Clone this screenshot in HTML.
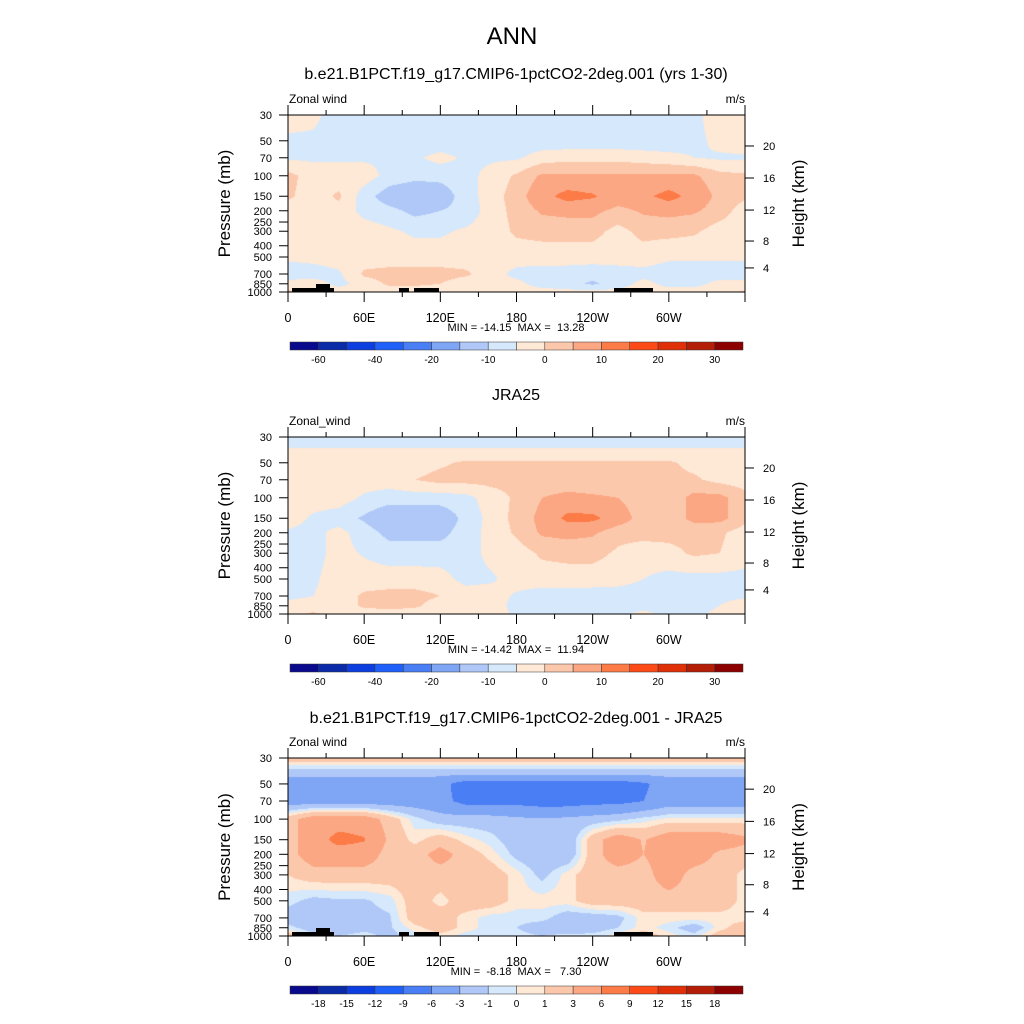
<!DOCTYPE html>
<html><head><meta charset="utf-8">
<style>
html,body{margin:0;padding:0;background:#fff;}
#wrap{position:relative;width:1024px;height:1024px;overflow:hidden;font-family:"Liberation Sans",sans-serif;}
canvas{position:absolute;}
svg{position:absolute;left:0;top:0;}
svg text{white-space:pre;}
</style></head>
<body>
<div id="wrap">
<canvas id="c1" width="457" height="177" style="left:288px;top:115px"></canvas>
<canvas id="c2" width="457" height="177" style="left:288px;top:437px"></canvas>
<canvas id="c3" width="457" height="178" style="left:288px;top:758px"></canvas>
<svg id="ov" width="1024" height="1024"></svg>
</div>
<script>
const lons = [0,20,40,60,80,100,120,140,160,180,200,220,240,260,280,300,320,340,360];
const plevs = [30,40,50,70,100,150,200,300,500,700,850,1000];
const colors = ['#0a0a8c','#0b2aa8','#0d3ee0','#2060fa','#4a7ef5','#7fa5f5','#b0c8f8','#d6e8fb','#fee8d6','#fcc8ac','#fca784','#fd7b46','#fd4b18','#e03008','#b41e06','#8c0000'];
const levelsU = [-60,-50,-40,-30,-20,-10,-3,0,3,6,10,20,25,30,35];
const levelsD = [-18,-15,-12,-9,-6,-3,-1,0,1,3,6,9,12,15,18];
const labelsU = ['-60','','-40','','-20','','-10','','0','','10','','20','','30'];
const labelsD = ['-18','-15','-12','-9','-6','-3','-1','0','1','3','6','9','12','15','18'];
const xTickLabels = ['0','60E','120E','180','120W','60W'];
const pTicks = [30,50,70,100,150,200,250,300,400,500,700,850,1000];
const zTicks = [4,8,12,16,20];
const model = [
[2,1,-2,-2,-2,-2,-2,-2,-2,-2,-2,-2,-2,-2,-2,-2,-1,2,2],
[1,0,-2,-2,-2,-2,-2,-2,-2,-2,-2,-2,-2,-2,-2,-2,-1,1.5,2],
[-2,-2,-2,-2,-2,-2,-2,-2,-2,-2,-2,-2,-2,-2,-2,-2,-1,1,2],
[-0.5,-0.5,-0.5,-0.5,-0.5,-0.5,1,-0.5,-0.5,-0.5,1.5,2,2,2,1.5,1,0,-0.5,-0.5],
[4,1.5,1.5,1.5,-1,-2,-2,-1,1,3.5,6.5,6.5,6.5,6.5,6.5,6.5,6.5,4,3.5],
[3.5,1.5,3.5,-1.5,-5,-6,-5,-1.5,1.5,4.5,8.5,11.5,10.5,8,9,11.5,8.5,5,3.5],
[1.5,1.5,2,-1,-2,-4,-3,-2,1.5,4,6.5,7,7,5,6.5,7,6.5,4.5,1.5],
[1.5,1.5,1.5,1.5,0.5,-0.5,-0.5,0.5,1.5,3.5,4,4,4,2,4,4,3.5,1.5,1.5],
[0.5,1,1.5,1.5,1.5,1.5,1.5,1.5,1.5,1.5,1.5,1.5,1.5,1.5,1.5,0.5,0.5,0.5,0.5],
[-1.5,-1.5,-0.5,3.5,4,4,4,3.5,1.5,-1,-1.5,-1.5,-2,-1.5,-1,-1.5,-1.5,-1.5,-1.5],
[1,1.5,-1,1.5,3.5,3.5,3,1.5,1.5,1,-1.5,-2,-3.5,-1.5,1,-1,-1,1,1],
[3.5,3,1.5,1.5,1.5,1.5,1.5,1.5,1.5,1.5,1.5,1,1,1,1.5,1.5,1.5,1.5,3.5]];
const jra = [
[-1.5,-1.5,-1.5,-1.5,-1.5,-1.5,-1.5,-1.5,-1.5,-1.5,-1.5,-1.5,-1.5,-1.5,-1.5,-1.5,-1.5,-1.5,-1.5],
[0.5,0.5,0.5,0.5,0.5,0.5,0.5,0.5,0.5,0.5,0.5,0.5,0.5,0.5,0.5,0.5,0.5,0.5,0.5],
[3,2,1.5,1.5,1.5,1.5,2.5,3.5,3.5,3.5,3.5,3.5,3.5,3.5,3.5,3.5,2,1.5,1.5],
[1.5,1.5,1.5,1.5,1.5,3,4,4,4,4,4,4,4,4,4,4,3.5,2,1.5],
[1.5,1.5,1.5,-0.5,-1.5,-1.5,-1.5,-1,1.5,3.5,6,7,6.5,6,4,4,7,7,4],
[1.5,-0.5,-1.5,-3.5,-6,-6,-5.5,-2,1,4,7,11,11,8,4.5,4,7,7,4],
[-0.5,-1,1,-1.5,-4,-4,-4,-1.5,1,3.5,6.5,7,6.5,4,4,4,4,3.5,1.5],
[-1,-1,1,-0.3,-1.5,-1.5,-1.5,-1.5,1,1.5,3.5,4,4,2.5,1.5,2,3.5,3,1.5],
[-1,-0.5,1.5,1.5,1.5,1.5,1.2,-1,-0.5,1.5,1.5,1.5,1.5,1.2,0,-1,-1,-1,-1],
[-1,0,1.5,3.5,4,4,3,1.5,1.5,-0.5,-1.5,-1.5,-1.5,-1.5,-1.5,-1.5,-1.5,-1.5,-1],
[1.5,1.5,1.5,3.5,4,3.5,1.5,1.5,1.5,-1,-1.5,-1.5,-1.5,-1.5,-1.5,-1.5,-1.5,0,3],
[2,3.5,1.5,1.5,1.5,1.5,1.5,1.5,1.5,-0.5,-1.5,-1.5,-1,-1,1,-1,-1,1,3]];
const diff = [
[2,2,2,2,2,2,2,2,2,2,2,2,2,2,2,2,2,2,2],
[-2,-2,-2,-2,-2,-2,-2,-2,-2,-2,-2,-2,-2,-2,-2,-2,-2,-2,-2],
[-4.5,-4.5,-4.5,-4.5,-4.5,-4.5,-5,-7.5,-7.5,-7.5,-7.5,-7.5,-7.5,-7.5,-6.5,-4.5,-4.5,-4.5,-4.5],
[-4.5,-4.5,-4.5,-4.5,-4.5,-4.5,-5,-7,-7,-7,-7.5,-7.5,-7,-7,-6,-4.5,-4.5,-4.5,-4.5],
[2,4.5,4.5,4.5,2,-0.5,-2,-2,-2,-2.5,-2.8,-2.5,-2,-1.5,-0.5,0.3,0.3,0.3,0.3],
[2,4.5,7,6.2,2.5,0.5,2,0.5,-0.5,-2,-2.5,-2.5,2,4.5,2.8,4.5,4.5,4.5,3.5],
[2,4.5,4.5,4.5,2,2,4,2,0.5,-1.5,-2.5,-2.5,2,4.5,3,4.5,4.5,2.5,2],
[1,2,2,2,2,2,2,2,2,0.5,-1.5,0.5,2,2,2,4.5,2,2,0.5],
[-0.5,-1.5,-1.2,-1.2,-0.5,2,0.5,2,2,0.5,0.5,0.5,2,2,2,2,2,2,0.5],
[-2,-2.5,-2,-1.5,-1.2,2,2,0.5,-0.5,-0.5,-0.5,-2,-2,-1.5,0.5,0.5,0.5,0.5,0.5],
[-0.5,-2,-2,-1.5,-1.2,0.5,2,0.5,-0.5,-1,-2,-2.5,-2,-1,0.5,-0.5,-2,0.5,2],
[2,-0.5,-1,-0.5,-1.5,-0.5,0.5,-0.5,-0.5,-0.5,-1,-0.5,-0.5,0.5,2,0.5,-0.5,2,2]];

const LOGR = Math.log(1000/30);
function pFrac(p){return Math.log(p/30)/LOGR;}
function zFrac(z){const zz=[4,8,12,16,20],ff=[0.864,0.712,0.537,0.356,0.175];
  let i=0;while(i<zz.length-2&&z>zz[i+1])i++;const f=(z-zz[i])/(zz[i+1]-zz[i]);return ff[i]+(ff[i+1]-ff[i])*f;}
function classify(v,lev){let k=0;while(k<lev.length&&v>lev[k])k++;return k;}
function sample(grid,lon,lp){
  let i=Math.min(lons.length-2,Math.floor(lon/20)); let fx=(lon-lons[i])/20;
  let j=0; while(j<plevs.length-2 && Math.log(plevs[j+1])<lp) j++;
  let a=Math.log(plevs[j]),b=Math.log(plevs[j+1]); let fy=Math.max(0,Math.min(1,(lp-a)/(b-a)));
  const v00=grid[j][i],v01=grid[j][i+1],v10=grid[j+1][i],v11=grid[j+1][i+1];
  return (v00*(1-fx)+v01*fx)*(1-fy)+(v10*(1-fx)+v11*fx)*fy;
}
function hex(c){return [parseInt(c.substr(1,2),16),parseInt(c.substr(3,2),16),parseInt(c.substr(5,2),16)];}
const rgb=colors.map(hex);
function drawField(id,grid,lev){
  const cv=document.getElementById(id),ctx=cv.getContext('2d');
  const W=cv.width,H=cv.height,img=ctx.createImageData(W,H);
  for(let y=0;y<H;y++){const lp=Math.log(30)+LOGR*(y+0.5)/H;
    for(let x=0;x<W;x++){const lon=360*(x+0.5)/W;const k=classify(sample(grid,lon,lp),lev);const c=rgb[k];const o=(y*W+x)*4;
      img.data[o]=c[0];img.data[o+1]=c[1];img.data[o+2]=c[2];img.data[o+3]=255;}}
  ctx.putImageData(img,0,0);
}
drawField('c1',model,levelsU);drawField('c2',jra,levelsU);drawField('c3',diff,levelsD);

const NS='http://www.w3.org/2000/svg',svg=document.getElementById('ov');
function el(tag,attrs,txt){const e=document.createElementNS(NS,tag);for(const k in attrs)e.setAttribute(k,attrs[k]);if(txt!==undefined)e.textContent=txt;svg.appendChild(e);return e;}
let t;
t=el('text',{x:512,y:44,'font-size':24,'text-anchor':'middle'},'ANN');


const X0=288,W=457;
function xPos(lon){return X0+lon/360*W;}
const panels=[
 {top:115,h:177,title:'b.e21.B1PCT.f19_g17.CMIP6-1pctCO2-2deg.001 (yrs 1-30)',ty:79,lab:'Zonal wind',minmax:'MIN = -14.15  MAX =  13.28',lev:labelsU,topo:true},
 {top:437,h:177,title:'JRA25',ty:400,lab:'Zonal_wind',minmax:'MIN = -14.42  MAX =  11.94',lev:labelsU,topo:false},
 {top:758,h:178,title:'b.e21.B1PCT.f19_g17.CMIP6-1pctCO2-2deg.001 - JRA25',ty:723,lab:'Zonal wind',minmax:'MIN =  -8.18  MAX =   7.30',lev:labelsD,topo:true}];
const topoRects=[[292,-4,42,4],[316,-8,14,4],[399,-4,10,4],[414,-4,25,4],[614,-4,39,4]];
panels.forEach((P,pi)=>{
  const bot=P.top+P.h;
  t=el('text',{x:516,y:P.ty,'font-size':16,'text-anchor':'middle'},P.title);
  
  
  t=el('text',{x:289,y:P.top-12,'font-size':12},P.lab);
  
  
  t=el('text',{x:745,y:P.top-12,'font-size':12,'text-anchor':'end'},'m/s');
  
  
  if(P.topo){topoRects.forEach(r=>{t=el('rect',{x:r[0],y:bot+r[1],width:r[2],height:r[3],fill:'#000'});
    
    });}
  t=el('rect',{x:X0,y:P.top,width:W,height:P.h,fill:'none',stroke:'#000','stroke-width':1});
  
  
  for(let lon=0;lon<=360;lon+=30){const x=xPos(lon),maj=lon%60===0,len=maj?10:5;
    el('line',{x1:x,y1:bot,x2:x,y2:bot+len,stroke:'#000'});
    el('line',{x1:x,y1:P.top,x2:x,y2:P.top-len,stroke:'#000'});
    if(maj&&lon<360){t=el('text',{x:x,y:bot+30,'font-size':12.5,'text-anchor':'middle'},xTickLabels[lon/60]);
      
      }}
  pTicks.forEach(p=>{const y=P.top+P.h*pFrac(p);el('line',{x1:X0-9,y1:y,x2:X0,y2:y,stroke:'#000'});
    t=el('text',{x:272,y:y+4,'font-size':11,'text-anchor':'end'},String(p));
    
    });
  zTicks.forEach(z=>{const y=P.top+P.h*zFrac(z);el('line',{x1:X0+W,y1:y,x2:X0+W+9,y2:y,stroke:'#000'});
    t=el('text',{x:763,y:y+4,'font-size':11},String(z));
    
    });
  const cy=P.top+P.h/2;
  t=el('text',{x:0,y:0,'font-size':17,'text-anchor':'middle',transform:`translate(230,${cy}) rotate(-90)`},'Pressure (mb)');
  
  
  t=el('text',{x:0,y:0,'font-size':17,'text-anchor':'middle',transform:`translate(804,${cy}) rotate(-90)`},'Height (km)');
  
  
  t=el('text',{x:516,y:bot+39,'font-size':11,'text-anchor':'middle'},P.minmax);
  
  
  const by=bot+50,bw=453/16;
  colors.forEach((c,k)=>{t=el('rect',{x:290+k*bw,y:by,width:bw,height:8,fill:c,stroke:'#333','stroke-width':0.5});
    
    });
  P.lev.forEach((s,k)=>{if(!s)return;t=el('text',{x:290+(k+1)*bw,y:by+21,'font-size':10,'text-anchor':'middle'},s);
    
    });
});
</script>
</body></html>
